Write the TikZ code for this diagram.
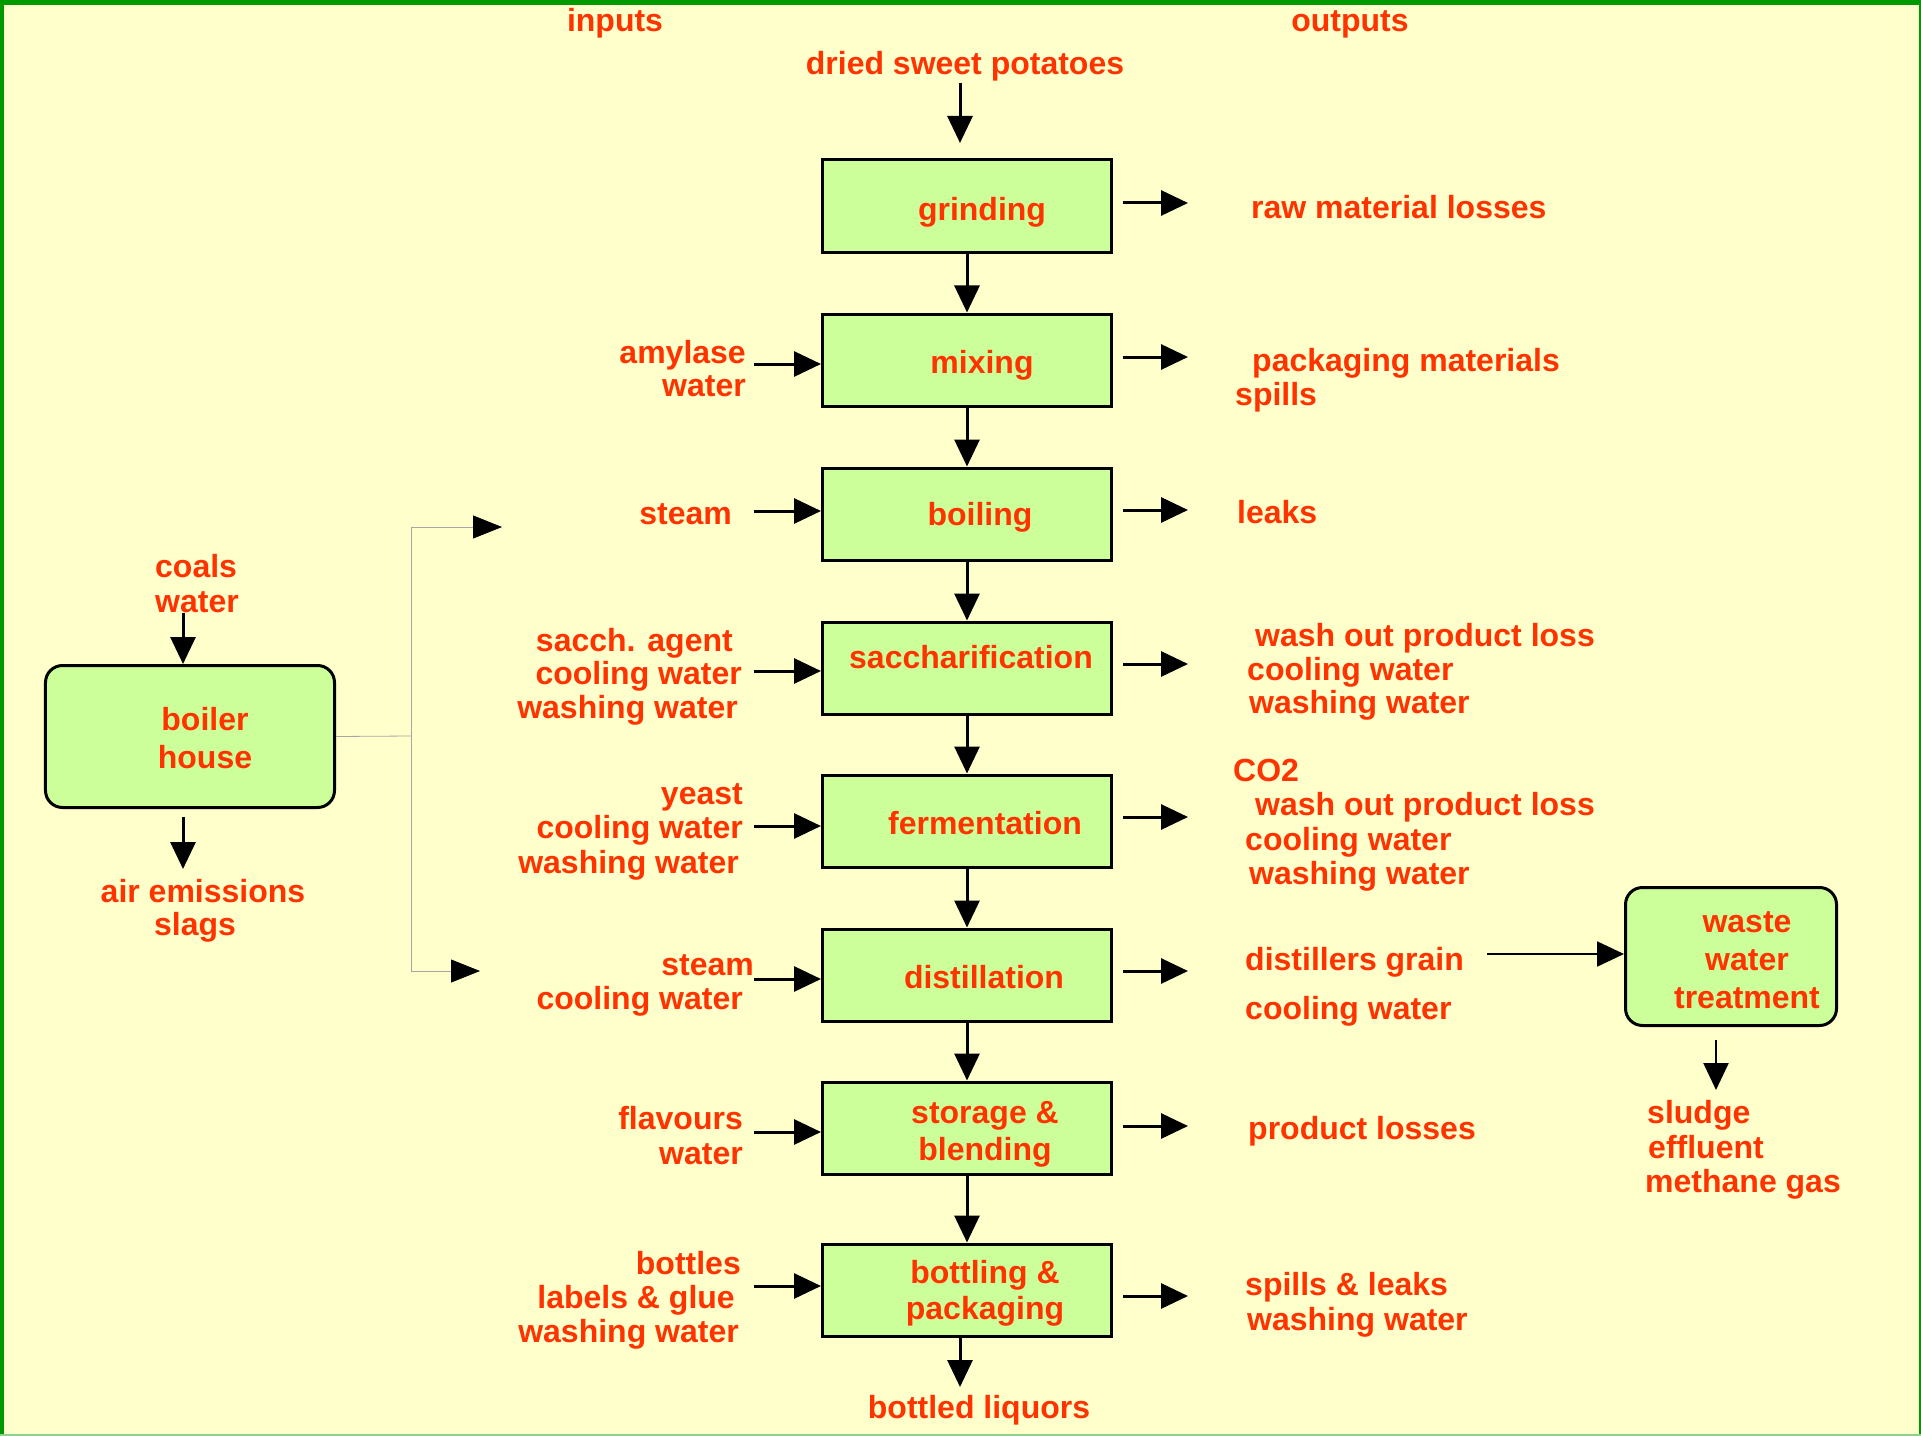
\documentclass[tikz,border=0pt]{standalone}
\usepackage{fontspec}
\setmainfont{Liberation Sans}
\usetikzlibrary{arrows.meta}

\definecolor{paper}{RGB}{255,255,204}
\definecolor{frame}{RGB}{0,153,0}
\definecolor{boxfill}{RGB}{204,255,153}
\definecolor{txt}{RGB}{255,51,0}

% multi-line label whose baseline is that of its first line
\newcommand\stack[3][1]{{\renewcommand\arraystretch{#1}\begin{tabular}[t]{@{}#2@{}}#3\end{tabular}}}

\begin{document}
\begin{tikzpicture}[x=1bp,y=-1bp,
  lbl/.style={text=txt, font=\bfseries\fontsize{32bp}{34bp}\selectfont, inner sep=0pt, yshift=-1.5bp},
  proc/.style={draw=black, line width=3bp, fill=boxfill, minimum width=289bp, minimum height=92bp, inner sep=0pt},
  unit/.style={draw=black, line width=3bp, fill=boxfill, rounded corners=17bp, inner sep=0pt},
  flow/.style={line width=3bp, -{Triangle[length=27bp,width=25bp]}},
  feed/.style={draw=black!35, line width=0.8bp},
  feedarr/.style={feed, -{Triangle[length=29bp,width=23bp,color=black]}}]

% page background and frame
\fill[paper] (0,0) rectangle (1921,1436);
\useasboundingbox (0,0) rectangle (1921,1436);
\draw[frame, line width=5bp] (0,2.5) -- (1921,2.5);
\draw[frame, line width=4bp] (2,0) -- (2,1436);
\draw[frame, line width=2bp] (1920,0) -- (1920,1436);
\draw[frame!45, line width=2bp] (0,1435) -- (1921,1435);

% column headings
\node[lbl, anchor=base] (hin) at (615,30) {inputs};
\node[lbl, anchor=base] (hout) at (1350,30) {outputs};

% process chain
\node[proc] (grind) at (967,206) {};
\node[proc] (mix)   at (967,360) {};
\node[proc] (boil)  at (967,514) {};
\node[proc] (sacch) at (967,668) {};
\node[proc] (ferm)  at (967,821) {};
\node[proc] (dist)  at (967,975) {};
\node[proc] (store) at (967,1128) {};
\node[proc] (bott)  at (967,1290) {};

\node[lbl, anchor=base] (tgrind) at (982,219) {grinding};
\node[lbl, anchor=base] (tmix)   at (982,372) {mixing};
\node[lbl, anchor=base] (tboil)  at (980,524) {boiling};
\node[lbl, anchor=base] (tsacch) at (971,667) {saccharification};
\node[lbl, anchor=base] (tferm)  at (985,833) {fermentation};
\node[lbl, anchor=base] (tdist)  at (984,987) {distillation};
\node[lbl, anchor=base] (tstore) at (985,1122) {\stack[1.09]{c}{storage \&\\blending}};
\node[lbl, anchor=base] (tbott)  at (985,1282) {\stack[1.06]{c}{bottling \&\\packaging}};

\draw[flow] (grind) -- (mix);
\draw[flow] (mix) -- (boil);
\draw[flow] (boil) -- (sacch);
\draw[flow] (sacch) -- (ferm);
\draw[flow] (ferm) -- (dist);
\draw[flow] (dist) -- (store);
\draw[flow] (store) -- (bott);

% raw material in, product out
\node[lbl, anchor=base] (tdried) at (965,73) {dried sweet potatoes};
\coordinate (dTail) at (960,83);
\coordinate (dTip) at (960,143);
\draw[flow] (dTail) -- (dTip);

\node[lbl, anchor=base] (tliq) at (979,1417) {bottled liquors};
\coordinate (liqTip) at (960,1387);
\draw[flow] (bott.south -| liqTip) -- (liqTip);

% inputs
\node[lbl, anchor=base east] (imix) at (746,362) {\stack[0.97]{r}{amylase\\water}};
\node[lbl, anchor=base east] (iboil) at (732,523) {steam};
\node[lbl, anchor=base east] (isacch) at (742,650) {\stack[0.985]{r}{sacch. agent\kern9bp\\cooling water\\washing water\kern4bp}};
\node[lbl, anchor=base east] (iferm) at (743,803) {\stack[1.01]{r}{yeast\\cooling water\\washing water\kern4bp}};
\node[lbl, anchor=base east] (idist) at (743,974) {\stack[1.0]{r}{steam\kern-11bp\\cooling water}};
\node[lbl, anchor=base east] (istore) at (743,1128) {\stack[1.03]{r}{flavours\\water}};
\node[lbl, anchor=base east] (ibott) at (741,1273) {\stack[1.0]{r}{bottles\\labels \& glue\kern6bp\\washing water\kern2bp}};

\coordinate (aMix) at (754,364);
\coordinate (aBoil) at (754,511);
\coordinate (aSacch) at (754,671);
\coordinate (aFerm) at (754,826);
\coordinate (aDist) at (754,979);
\coordinate (aStore) at (754,1132);
\coordinate (aBott) at (754,1286);
\draw[flow] (aMix) -- (aMix -| mix.west);
\draw[flow] (aBoil) -- (aBoil -| boil.west);
\draw[flow] (aSacch) -- (aSacch -| sacch.west);
\draw[flow] (aFerm) -- (aFerm -| ferm.west);
\draw[flow] (aDist) -- (aDist -| dist.west);
\draw[flow] (aStore) -- (aStore -| store.west);
\draw[flow] (aBott) -- (aBott -| bott.west);

% outputs
\node[lbl, anchor=base west] (ogrind) at (1251,217) {raw material losses};
\node[lbl, anchor=base west] (omix) at (1235,370) {\stack[1.0]{l}{\kern17bp packaging materials\\spills}};
\node[lbl, anchor=base west] (oboil) at (1237,522) {leaks};
\node[lbl, anchor=base west] (osacch) at (1247,645) {\stack[0.99]{l}{\kern8bp wash out product loss\\cooling water\\\kern2bp washing water}};
\node[lbl, anchor=base west] (oferm) at (1233,780) {\stack[1.01]{l}{CO2\\\kern22bp wash out product loss\\\kern12bp cooling water\\\kern16bp washing water}};
\node[lbl, anchor=base west] (odist) at (1245,969) {\stack[1.44]{l}{distillers grain\\cooling water}};
\node[lbl, anchor=base west] (ostore) at (1248,1138) {product losses};
\node[lbl, anchor=base west] (obott) at (1245,1294) {\stack[1.03]{l}{spills \& leaks\\\kern2bp washing water}};

\coordinate (bGrind) at (1188,203);
\coordinate (bMix) at (1188,357);
\coordinate (bBoil) at (1188,510);
\coordinate (bSacch) at (1188,664);
\coordinate (bFerm) at (1188,817);
\coordinate (bDist) at (1188,971);
\coordinate (bStore) at (1188,1126);
\coordinate (bBott) at (1188,1296);
\draw[flow, shorten <=10bp] (bGrind -| grind.east) -- (bGrind);
\draw[flow, shorten <=10bp] (bMix -| mix.east) -- (bMix);
\draw[flow, shorten <=10bp] (bBoil -| boil.east) -- (bBoil);
\draw[flow, shorten <=10bp] (bSacch -| sacch.east) -- (bSacch);
\draw[flow, shorten <=10bp] (bFerm -| ferm.east) -- (bFerm);
\draw[flow, shorten <=10bp] (bDist -| dist.east) -- (bDist);
\draw[flow, shorten <=10bp] (bStore -| store.east) -- (bStore);
\draw[flow, shorten <=10bp] (bBott -| bott.east) -- (bBott);

% waste water treatment
\node[unit, minimum width=211bp, minimum height=138bp] (waste) at (1731,956.5) {};
\node[lbl, anchor=base] (twaste) at (1747,931) {\stack[1.12]{c}{waste\\water\\treatment}};
\coordinate (dgTail) at (1487,954);
\draw[line width=2.2bp, -{Triangle[length=27bp,width=25bp]}] (dgTail) -- (dgTail -| waste.west);

\coordinate (sTip) at (1716,1090);
\draw[flow, line width=2.4bp, shorten <=13bp] (waste.south -| sTip) -- (sTip);
\node[lbl, anchor=base west] (osludge) at (1645,1122) {\stack[1.015]{l}{\kern2bp sludge\\\kern3bp effluent\\methane gas}};

% boiler house
\node[unit, minimum width=289bp, minimum height=142bp] (boiler) at (190,736.5) {};
\node[lbl, anchor=base] (tboiler) at (205,729) {\stack[1.12]{c}{boiler\\house}};
\node[lbl, anchor=base west] (icoal) at (155,576) {\stack[1.03]{l}{coals\\water}};
\coordinate (cTail) at (183,613);
\draw[flow] (cTail) -- (cTail |- boiler.north);
\coordinate (eTip) at (183,869);
\draw[flow, shorten <=8bp] (boiler.south -| eTip) -- (eTip);
\node[lbl, anchor=base] (oboiler) at (203,901) {\stack[0.97]{c}{air emissions\\slags\kern16bp}};

% steam feed from the boiler house
\coordinate (bus) at (411,736);
\coordinate (feedTop) at (502,527);
\coordinate (feedBot) at (480,971);
\draw[feed] (boiler.east) -- (bus);
\draw[feedarr] (bus) |- (feedTop);
\draw[feedarr] (bus) |- (feedBot);
\end{tikzpicture}
\end{document}
